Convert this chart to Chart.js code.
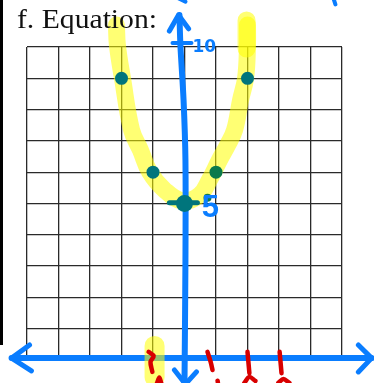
<!DOCTYPE html>
<html>
<head>
<meta charset="utf-8">
<script src="https://cdn.jsdelivr.net/npm/chart.js@4.4.1/dist/chart.umd.min.js"></script>
<style>
  html, body { margin: 0; padding: 0; background: #ffffff; }
  #wrap { width: 374px; height: 383px; position: relative; }
</style>
</head>
<body>
<div id="wrap"><canvas id="c" width="374" height="383"></canvas></div>
<script>
// Plotted points of the parabola y = x^2 + 5
const pointX = [-2, 2, -1, 1, 0];
const pointY = [9, 9, 6, 6, 5];
const pointSizes = [6.5, 6.5, 6.5, 6.5, 8.5];
const pointColors = ['#00757c', '#00757c', '#00757c', '#0b7a4c', '#00757c'];

// Axis ranges of the grid
const xRange = [-5, 5];
const yRange = [0, 10];

// Highlighter stroke tracing the curve
const curveX = [-2.16, -2.13, -1.97, -1.68, -1.40, -1.11, -0.63, -0.06, 0.48, 0.79, 1.11, 1.37, 1.59, 1.78, 1.94, 2.00, 2.00];
const curveY = [10.70, 10.06, 9.01, 7.35, 6.71, 6.01, 5.43, 5.08, 5.27, 5.75, 6.39, 6.87, 7.35, 8.31, 9.01, 10.06, 10.70];
const capX = [1.97, 1.97];
const capY = [10.85, 9.95];
const blobX = [-0.95, -0.95];
const blobY = [0.45, -0.55];

// Hand-drawn axes
const xAxisX = [-5.49, 5.94];
const xAxisY = [0.06, 0.06];
const leftHeadX = [-4.92, -5.49, -4.86];
const leftHeadY = [0.48, 0.06, -0.35];
const rightHeadX = [5.52, 5.94, 5.52];
const rightHeadY = [0.48, 0.06, -0.38];
const yAxisX = [-0.16, -0.13, -0.03, 0.03, 0.03, 0.0];
const yAxisY = [11.02, 10.06, 8.31, 6.39, 3.19, -0.73];
const topHeadX = [-0.48, -0.19, 0.13];
const topHeadY = [10.51, 11.02, 10.58];
const bottomHeadX = [-0.32, 0.03, 0.38];
const bottomHeadY = [-0.32, -0.77, -0.38];
const tenTickX = [-0.38, 0.22];
const tenTickY = [10.13, 10.13];
const strokeAX = [-0.22, 0.03];
const strokeAY = [11.57, 11.45];
const strokeBX = [4.74, 4.79];
const strokeBY = [11.52, 11.36];
const strayDotX = [-1.05];
const strayDotY = [10.13];

// Stroke through the vertex and the extra dot beside it
const vertexBarX = [-0.48, 0.41];
const vertexBarY = [5.02, 5.02];
const sideDotX = [0.73];
const sideDotY = [5.18];

// Axis labels written beside the y-axis
const axisLabels = ['10', '5'];
const axisLabelX = [0.25, 0.55];
const axisLabelY = [9.97, 4.85];

// Red tick marks along the x-axis
const redMarks = [
  { x: [-1.14, -0.98, -1.08, -1.02], y: [0.26, 0.13, -0.06, -0.38] },
  { x: [-0.87, -0.80, -0.74], y: [-0.73, -0.56, -0.73] },
  { x: [0.73, 0.83, 0.89], y: [0.26, -0.06, -0.32] },
  { x: [1.05, 1.06], y: [-0.66, -0.72] },
  { x: [2.00, 2.06], y: [0.26, -0.42] },
  { x: [1.90, 2.06, 2.25], y: [-0.73, -0.54, -0.67] },
  { x: [3.02, 3.08], y: [0.26, -0.42] },
  { x: [2.98, 3.14, 3.33], y: [-0.73, -0.61, -0.73] }
];

const title = 'f. Equation:';

const BLUE = '#0a7dff';
const YELLOW = 'rgba(255, 255, 0, 0.55)';
const RED = '#d80000';
const TEAL = '#00757c';

function pts(xs, ys) { return xs.map((x, i) => ({ x: x, y: ys[i] })); }

function stroke(xs, ys, color, width, order, tension) {
  return {
    data: pts(xs, ys), showLine: true, borderColor: color, borderWidth: width,
    pointRadius: 0, borderCapStyle: 'round', borderJoinStyle: 'round',
    tension: tension || 0, clip: false, order: order, fill: false
  };
}

const datasets = [
  stroke(curveX, curveY, YELLOW, 17, 50, 0.4),
  stroke(capX, capY, YELLOW, 18, 49),
  stroke(xAxisX, xAxisY, BLUE, 6, 40),
  stroke(leftHeadX, leftHeadY, BLUE, 5, 40),
  stroke(rightHeadX, rightHeadY, BLUE, 5, 40),
  stroke(yAxisX, yAxisY, BLUE, 6, 40, 0.3),
  stroke(topHeadX, topHeadY, BLUE, 5, 40),
  stroke(bottomHeadX, bottomHeadY, BLUE, 5, 40),
  stroke(tenTickX, tenTickY, BLUE, 4, 40),
  stroke(strokeAX, strokeAY, BLUE, 4, 40),
  stroke(strokeBX, strokeBY, BLUE, 4, 40),
  { data: pts(strayDotX, strayDotY), pointRadius: 1.6, pointBackgroundColor: BLUE, pointBorderWidth: 0, clip: false, order: 40 },
  stroke(blobX, blobY, YELLOW, 20, 35),
  stroke(vertexBarX, vertexBarY, TEAL, 5, 20),
  { data: pts(sideDotX, sideDotY), pointRadius: 4, pointBackgroundColor: '#0b7a50', pointBorderWidth: 0, clip: false, order: 20 },
  { data: pts(pointX, pointY), pointRadius: pointSizes, pointBackgroundColor: pointColors, pointBorderWidth: 0, clip: false, order: 10 }
];
redMarks.forEach(m => datasets.push(stroke(m.x, m.y, RED, 4.5, 5, 0.3)));

// Page heading, border rule and the handwritten axis numbers
const decorations = {
  id: 'decorations',
  afterDraw(chart) {
    const ctx = chart.ctx;
    const xs = chart.scales.x, ys = chart.scales.y;
    ctx.save();
    ctx.strokeStyle = '#000';
    ctx.lineWidth = 3;
    ctx.beginPath();
    ctx.moveTo(1.5, 0);
    ctx.lineTo(1.5, 345);
    ctx.stroke();

    ctx.fillStyle = '#111';
    ctx.font = '27px "Liberation Serif"';
    ctx.textBaseline = 'alphabetic';
    ctx.textAlign = 'left';
    const w = ctx.measureText(title).width;
    ctx.save();
    ctx.translate(17, 28);
    ctx.scale(140 / w, 1);
    ctx.fillText(title, 0, 0);
    ctx.restore();

    ctx.fillStyle = BLUE;
    ctx.textBaseline = 'middle';
    axisLabels.forEach((t, i) => {
      const px = xs.getPixelForValue(axisLabelX[i]);
      const py = ys.getPixelForValue(axisLabelY[i]);
      ctx.font = (t.length > 1 ? 'bold 17px "DejaVu Sans"' : 'bold 31px "Liberation Sans"');
      ctx.fillText(t, px, py);
    });
    ctx.restore();
  }
};

new Chart(document.getElementById('c'), {
  type: 'scatter',
  data: { datasets: datasets },
  options: {
    responsive: false,
    animation: false,
    events: [],
    layout: { padding: { left: 27, right: 32, top: 47, bottom: 23 } },
    plugins: { legend: { display: false }, tooltip: { enabled: false }, title: { display: false } },
    scales: {
      x: {
        type: 'linear', min: xRange[0], max: xRange[1],
        ticks: { display: false, stepSize: 1 },
        grid: { color: '#2a2a2a', lineWidth: 1.3, drawTicks: false },
        border: { display: false }
      },
      y: {
        type: 'linear', min: yRange[0], max: yRange[1],
        ticks: { display: false, stepSize: 1 },
        grid: { color: '#2a2a2a', lineWidth: 1.3, drawTicks: false },
        border: { display: false }
      }
    }
  },
  plugins: [decorations]
});
</script>
</body>
</html>
